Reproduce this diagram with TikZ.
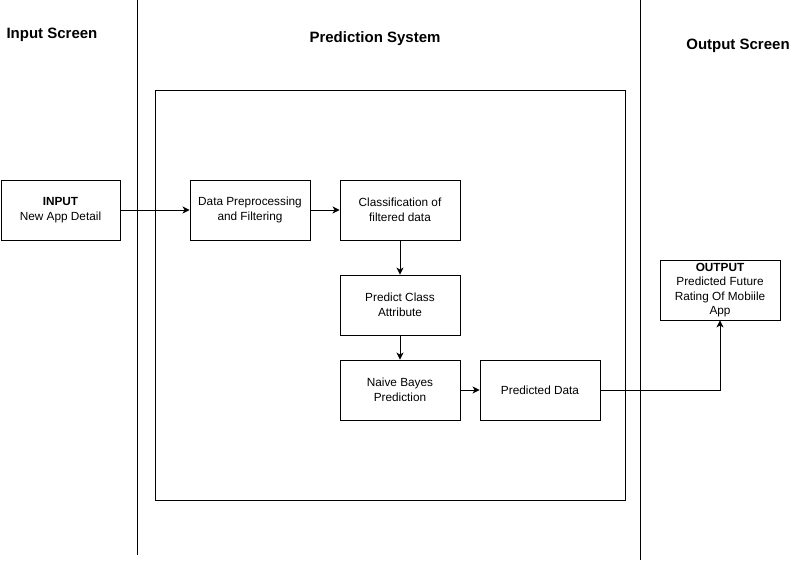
\documentclass[tikz,border=0pt]{standalone}
\usepackage{fontspec}
\setmainfont{Liberation Sans}
\usetikzlibrary{arrows.meta}
\begin{document}
\begin{tikzpicture}[x=1pt,y=-1pt,
  boxnode/.style={draw,line width=0.9pt,minimum width=120pt,minimum height=60pt,align=center,font=\fontsize{11.8}{14.5}\selectfont,inner sep=2pt},
  titlenode/.style={font=\fontsize{15}{17}\selectfont\bfseries},
  conn/.style={line width=0.9pt,-{Stealth[length=7pt,width=7pt,inset=2pt]}},
  lane/.style={line width=0.9pt}]
\useasboundingbox[fill=white] (0,0) rectangle (806,562);
% lane separators
\draw[lane] (137,0) coordinate (l1a) -- (137,555) coordinate (l1b);
\draw[lane] (640,0) coordinate (l2a) -- (640,560) coordinate (l2b);
% titles
\node[titlenode,anchor=west] (tin) at (3,34.5) {Input Screen};
\node[titlenode] (tsys) at (375,38.5) {Prediction System};
\node[titlenode] (tout) at (738,45.5) {Output Screen};
% system frame
\node[draw,line width=0.9pt,minimum width=470pt,minimum height=410pt,inner sep=0pt] (frame) at (390,295) {};
% boxes
\node[boxnode,minimum width=119pt] (in) at (60.5,210) {\textbf{INPUT}\\New App Detail};
\node[boxnode] (pre) at (250,210) {Data Preprocessing\\and Filtering};
\node[boxnode] (cls) at (400,210) {Classification of\\filtered data};
\node[boxnode] (pca) at (400,305) {Predict Class\\Attribute};
\node[boxnode] (nb) at (400,390) {Naive Bayes\\Prediction};
\node[boxnode] (pd) at (540,390) {Predicted Data};
\node[boxnode,minimum height=60pt,inner sep=0pt] (out) at (720,290) {\textbf{OUTPUT}\\Predicted Future\\Rating Of Mobiile\\App};
% connectors
\draw[conn] (in) -- (pre);
\draw[conn] (pre) -- (cls);
\draw[conn] (cls) -- (pca);
\draw[conn] (pca) -- (nb);
\draw[conn] (nb) -- (pd);
\draw[conn] (pd.east) -| (out.south);
\end{tikzpicture}
\end{document}
